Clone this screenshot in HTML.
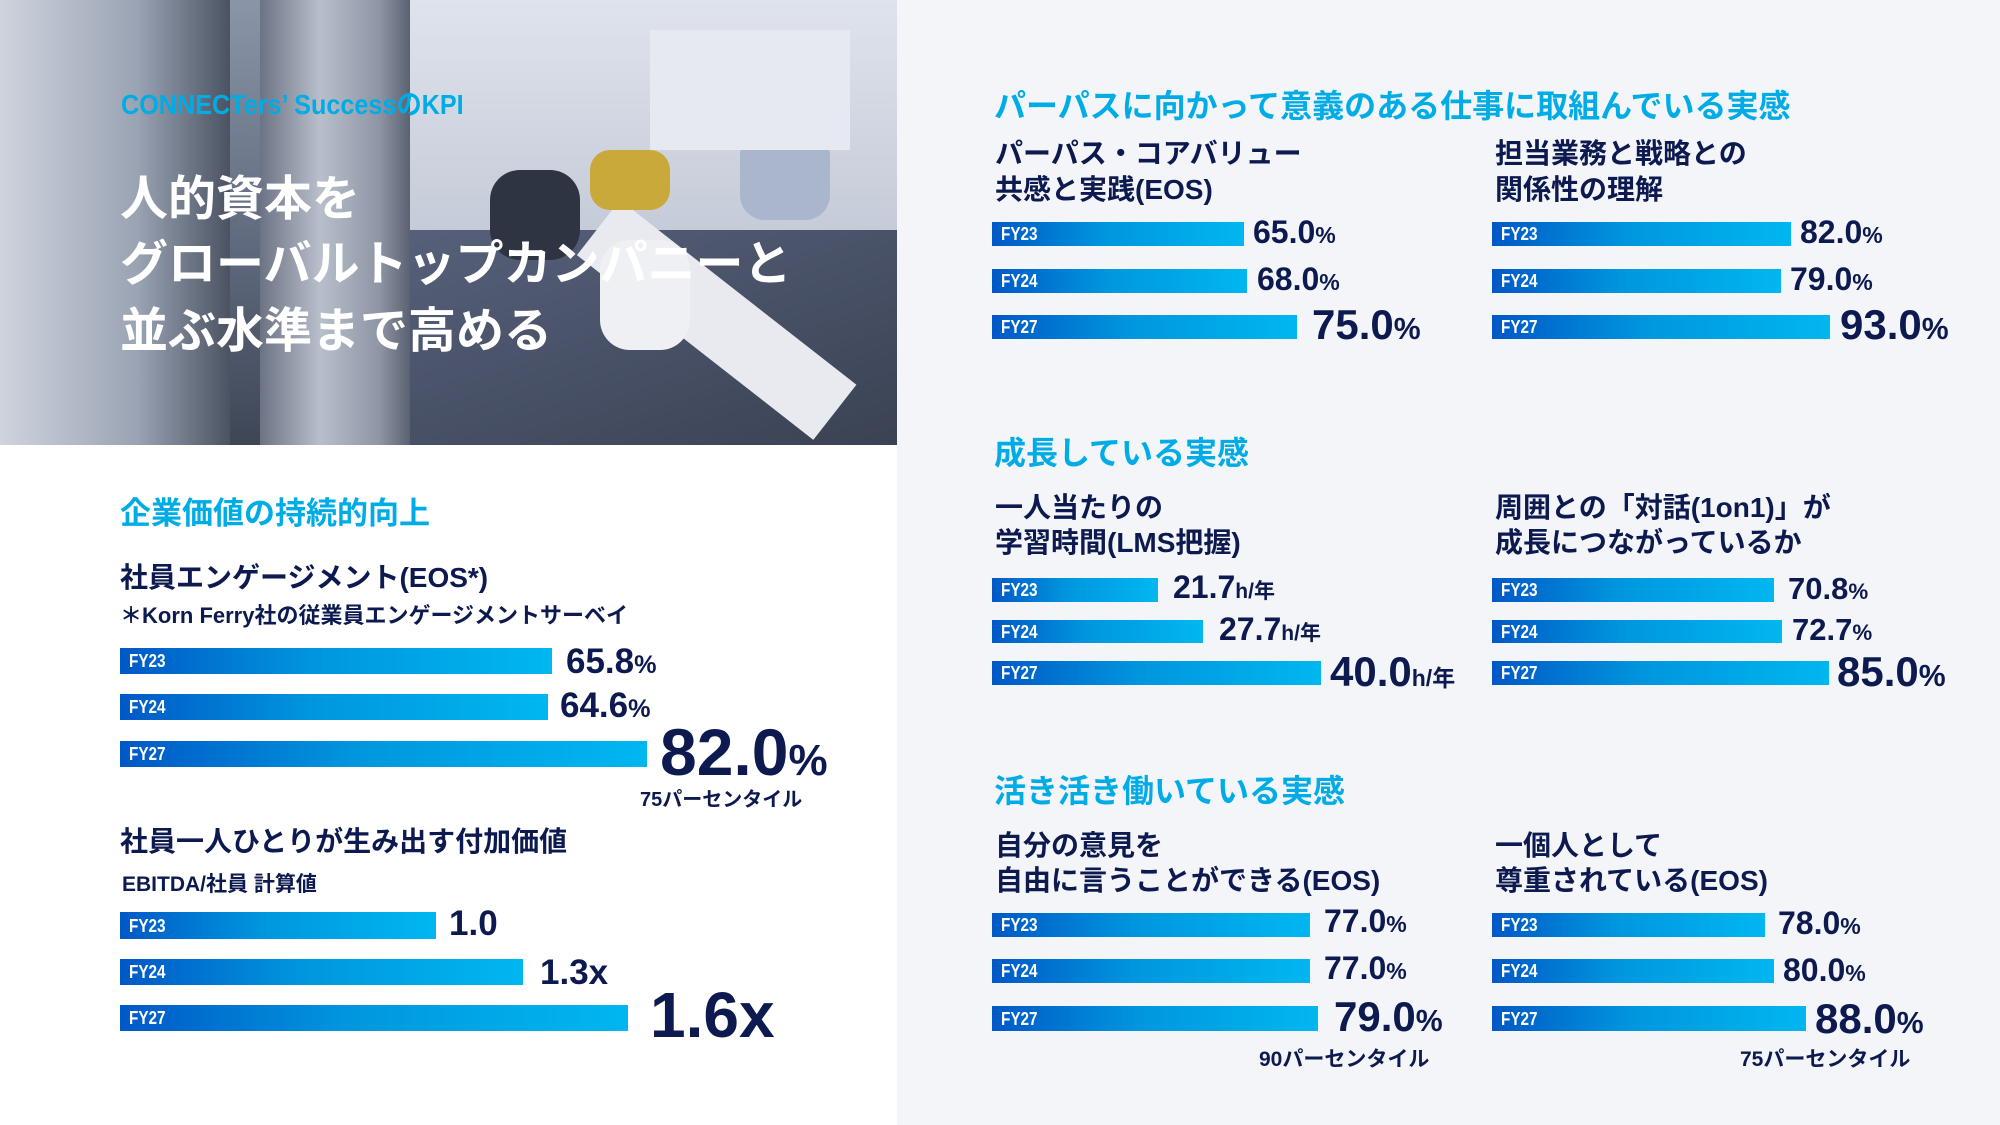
<!DOCTYPE html>
<html><head><meta charset="utf-8">
<style>
*{margin:0;padding:0;box-sizing:border-box}
body{width:2000px;height:1125px;position:relative;overflow:hidden;background:#fff;font-family:"Liberation Sans","Noto Sans CJK JP",sans-serif;font-weight:bold;color:#0d1a4f}
.t{position:absolute;line-height:1;white-space:nowrap}
.b{position:absolute;background:linear-gradient(90deg,#0058c6 0%,#0096de 45%,#00b7f0 100%)}
.b span{position:absolute;left:9px;top:50%;transform:translateY(-50%) scaleX(.85);transform-origin:left center;color:#fff;font-size:18px;line-height:1}
.c{color:#00ace6}
.p{font-size:0.72em}
.n{transform:scaleX(1.0);transform-origin:left center}
</style></head><body>
<!-- photo -->
<div style="position:absolute;left:0;top:0;width:897px;height:445px;overflow:hidden;background:linear-gradient(180deg,#8a95a8 0%,#5c667a 60%,#3e4656 100%)">
 <div style="position:absolute;left:0;top:0;width:230px;height:445px;background:linear-gradient(90deg,#cfd4de,#9aa3b3 60%,#4b5363)"></div>
 <div style="position:absolute;left:260px;top:0;width:150px;height:445px;background:linear-gradient(90deg,#6c7384,#b8bfcb 40%,#8d95a5 80%,#5a6272)"></div>
 <div style="position:absolute;left:410px;top:0;width:487px;height:230px;background:linear-gradient(180deg,#dfe3ec,#c5cbd8)"></div>
 <div style="position:absolute;left:410px;top:230px;width:487px;height:215px;background:linear-gradient(160deg,#56607a,#3a4253)"></div>
 <div style="position:absolute;left:620px;top:200px;width:300px;height:70px;background:#e8eaf0;transform:rotate(38deg);transform-origin:left top"></div>
 <div style="position:absolute;left:590px;top:150px;width:80px;height:60px;background:#c9a93a;border-radius:20px"></div>
 <div style="position:absolute;left:740px;top:130px;width:90px;height:90px;background:#a9b6cc;border-radius:25px"></div>
 <div style="position:absolute;left:490px;top:170px;width:90px;height:90px;background:#2f3442;border-radius:30px"></div>
 <div style="position:absolute;left:600px;top:240px;width:90px;height:110px;background:#eef0f4;border-radius:30px"></div>
 <div style="position:absolute;left:650px;top:30px;width:200px;height:120px;background:#e6e9ef"></div>
</div>
<div class="t c" style="left:121px;top:91px;font-size:28px;transform:scaleX(.9);transform-origin:left center">CONNECTers’ SuccessのKPI</div>
<div class="t" style="left:120px;top:176px;font-size:48px;color:#fff;line-height:1">人的資本を</div>
<div class="t" style="left:120px;top:241px;font-size:48px;color:#fff">グローバルトップカンパニーと</div>
<div class="t" style="left:120px;top:308px;font-size:48px;color:#fff">並ぶ水準まで高める</div>

<!-- right panel -->
<div style="position:absolute;left:897px;top:0;width:1103px;height:1125px;background:#f3f5f8"></div>

<!-- left bottom -->
<div class="t c" style="left:120px;top:498px;font-size:31px">企業価値の持続的向上</div>
<div class="t" style="left:120px;top:564px;font-size:28px">社員エンゲージメント(EOS*)</div>
<div class="t" style="left:120px;top:605px;font-size:22px">＊Korn Ferry社の従業員エンゲージメントサーベイ</div>
<div class="b" style="left:120px;top:648px;width:432px;height:26px"><span>FY23</span></div>
<div class="b" style="left:120px;top:694px;width:428px;height:26px"><span>FY24</span></div>
<div class="b" style="left:120px;top:741px;width:527px;height:26px"><span>FY27</span></div>
<div class="t n" style="left:566px;top:644px;font-size:35px">65.8<span class="p">%</span></div>
<div class="t n" style="left:560px;top:688px;font-size:35px">64.6<span class="p">%</span></div>
<div class="t n" style="left:660px;top:719px;font-size:66px">82.0<span style="font-size:44px">%</span></div>
<div class="t" style="left:640px;top:790px;font-size:20px">75パーセンタイル</div>
<div class="t" style="left:120px;top:828px;font-size:28px">社員一人ひとりが生み出す付加価値</div>
<div class="t" style="left:122px;top:874px;font-size:21px">EBITDA/社員 計算値</div>
<div class="b" style="left:120px;top:912px;width:316px;height:27px"><span>FY23</span></div>
<div class="b" style="left:120px;top:959px;width:403px;height:26px"><span>FY24</span></div>
<div class="b" style="left:120px;top:1005px;width:508px;height:26px"><span>FY27</span></div>
<div class="t n" style="left:449px;top:906px;font-size:35px">1.0</div>
<div class="t n" style="left:540px;top:955px;font-size:35px">1.3x</div>
<div class="t n" style="left:650px;top:983px;font-size:64px">1.6x</div>

<!-- section 1 -->
<div class="t c" style="left:994px;top:90px;font-size:32px">パーパスに向かって意義のある仕事に取組んでいる実感</div>
<div class="t" style="left:995px;top:140px;font-size:28px">パーパス・コアバリュー</div>
<div class="t" style="left:995px;top:176px;font-size:28px">共感と実践(EOS)</div>
<div class="t" style="left:1495px;top:140px;font-size:28px">担当業務と戦略との</div>
<div class="t" style="left:1495px;top:176px;font-size:28px">関係性の理解</div>
<div class="b" style="left:992px;top:222px;width:252px;height:24px"><span>FY23</span></div>
<div class="b" style="left:992px;top:269px;width:255px;height:24px"><span>FY24</span></div>
<div class="b" style="left:992px;top:315px;width:305px;height:24px"><span>FY27</span></div>
<div class="t n" style="left:1253px;top:216px;font-size:32px">65.0<span class="p">%</span></div>
<div class="t n" style="left:1257px;top:263px;font-size:32px">68.0<span class="p">%</span></div>
<div class="t n" style="left:1312px;top:304px;font-size:42px">75.0<span class="p">%</span></div>
<div class="b" style="left:1492px;top:222px;width:299px;height:24px"><span>FY23</span></div>
<div class="b" style="left:1492px;top:269px;width:289px;height:24px"><span>FY24</span></div>
<div class="b" style="left:1492px;top:315px;width:338px;height:24px"><span>FY27</span></div>
<div class="t n" style="left:1800px;top:216px;font-size:32px">82.0<span class="p">%</span></div>
<div class="t n" style="left:1790px;top:263px;font-size:32px">79.0<span class="p">%</span></div>
<div class="t n" style="left:1840px;top:304px;font-size:42px">93.0<span class="p">%</span></div>

<!-- section 2 -->
<div class="t c" style="left:994px;top:437px;font-size:32px">成長している実感</div>
<div class="t" style="left:995px;top:494px;font-size:28px">一人当たりの</div>
<div class="t" style="left:995px;top:529px;font-size:28px">学習時間(LMS把握)</div>
<div class="t" style="left:1495px;top:494px;font-size:28px">周囲との「対話(1on1)」が</div>
<div class="t" style="left:1495px;top:529px;font-size:28px">成長につながっているか</div>
<div class="b" style="left:992px;top:578px;width:166px;height:24px"><span>FY23</span></div>
<div class="b" style="left:992px;top:620px;width:211px;height:23px"><span>FY24</span></div>
<div class="b" style="left:992px;top:661px;width:329px;height:24px"><span>FY27</span></div>
<div class="t n" style="left:1173px;top:571px;font-size:32px">21.7<span style="font-size:21px">h/年</span></div>
<div class="t n" style="left:1219px;top:613px;font-size:32px">27.7<span style="font-size:21px">h/年</span></div>
<div class="t n" style="left:1330px;top:651px;font-size:42px">40.0<span style="font-size:23px">h/年</span></div>
<div class="b" style="left:1492px;top:578px;width:282px;height:24px"><span>FY23</span></div>
<div class="b" style="left:1492px;top:620px;width:290px;height:23px"><span>FY24</span></div>
<div class="b" style="left:1492px;top:661px;width:337px;height:24px"><span>FY27</span></div>
<div class="t n" style="left:1788px;top:573px;font-size:31px">70.8<span class="p">%</span></div>
<div class="t n" style="left:1792px;top:614px;font-size:31px">72.7<span class="p">%</span></div>
<div class="t n" style="left:1837px;top:651px;font-size:42px">85.0<span class="p">%</span></div>

<!-- section 3 -->
<div class="t c" style="left:994px;top:775px;font-size:32px">活き活き働いている実感</div>
<div class="t" style="left:995px;top:832px;font-size:28px">自分の意見を</div>
<div class="t" style="left:995px;top:867px;font-size:28px">自由に言うことができる(EOS)</div>
<div class="t" style="left:1495px;top:832px;font-size:28px">一個人として</div>
<div class="t" style="left:1495px;top:867px;font-size:28px">尊重されている(EOS)</div>
<div class="b" style="left:992px;top:913px;width:318px;height:24px"><span>FY23</span></div>
<div class="b" style="left:992px;top:959px;width:318px;height:24px"><span>FY24</span></div>
<div class="b" style="left:992px;top:1006px;width:326px;height:25px"><span>FY27</span></div>
<div class="t n" style="left:1324px;top:905px;font-size:32px">77.0<span class="p">%</span></div>
<div class="t n" style="left:1324px;top:952px;font-size:32px">77.0<span class="p">%</span></div>
<div class="t n" style="left:1334px;top:996px;font-size:42px">79.0<span class="p">%</span></div>
<div class="t" style="left:1259px;top:1049px;font-size:21px">90パーセンタイル</div>
<div class="b" style="left:1492px;top:913px;width:273px;height:24px"><span>FY23</span></div>
<div class="b" style="left:1492px;top:959px;width:282px;height:24px"><span>FY24</span></div>
<div class="b" style="left:1492px;top:1006px;width:314px;height:25px"><span>FY27</span></div>
<div class="t n" style="left:1778px;top:907px;font-size:32px">78.0<span class="p">%</span></div>
<div class="t n" style="left:1783px;top:954px;font-size:32px">80.0<span class="p">%</span></div>
<div class="t n" style="left:1815px;top:998px;font-size:42px">88.0<span class="p">%</span></div>
<div class="t" style="left:1740px;top:1049px;font-size:21px">75パーセンタイル</div>
</body></html>
